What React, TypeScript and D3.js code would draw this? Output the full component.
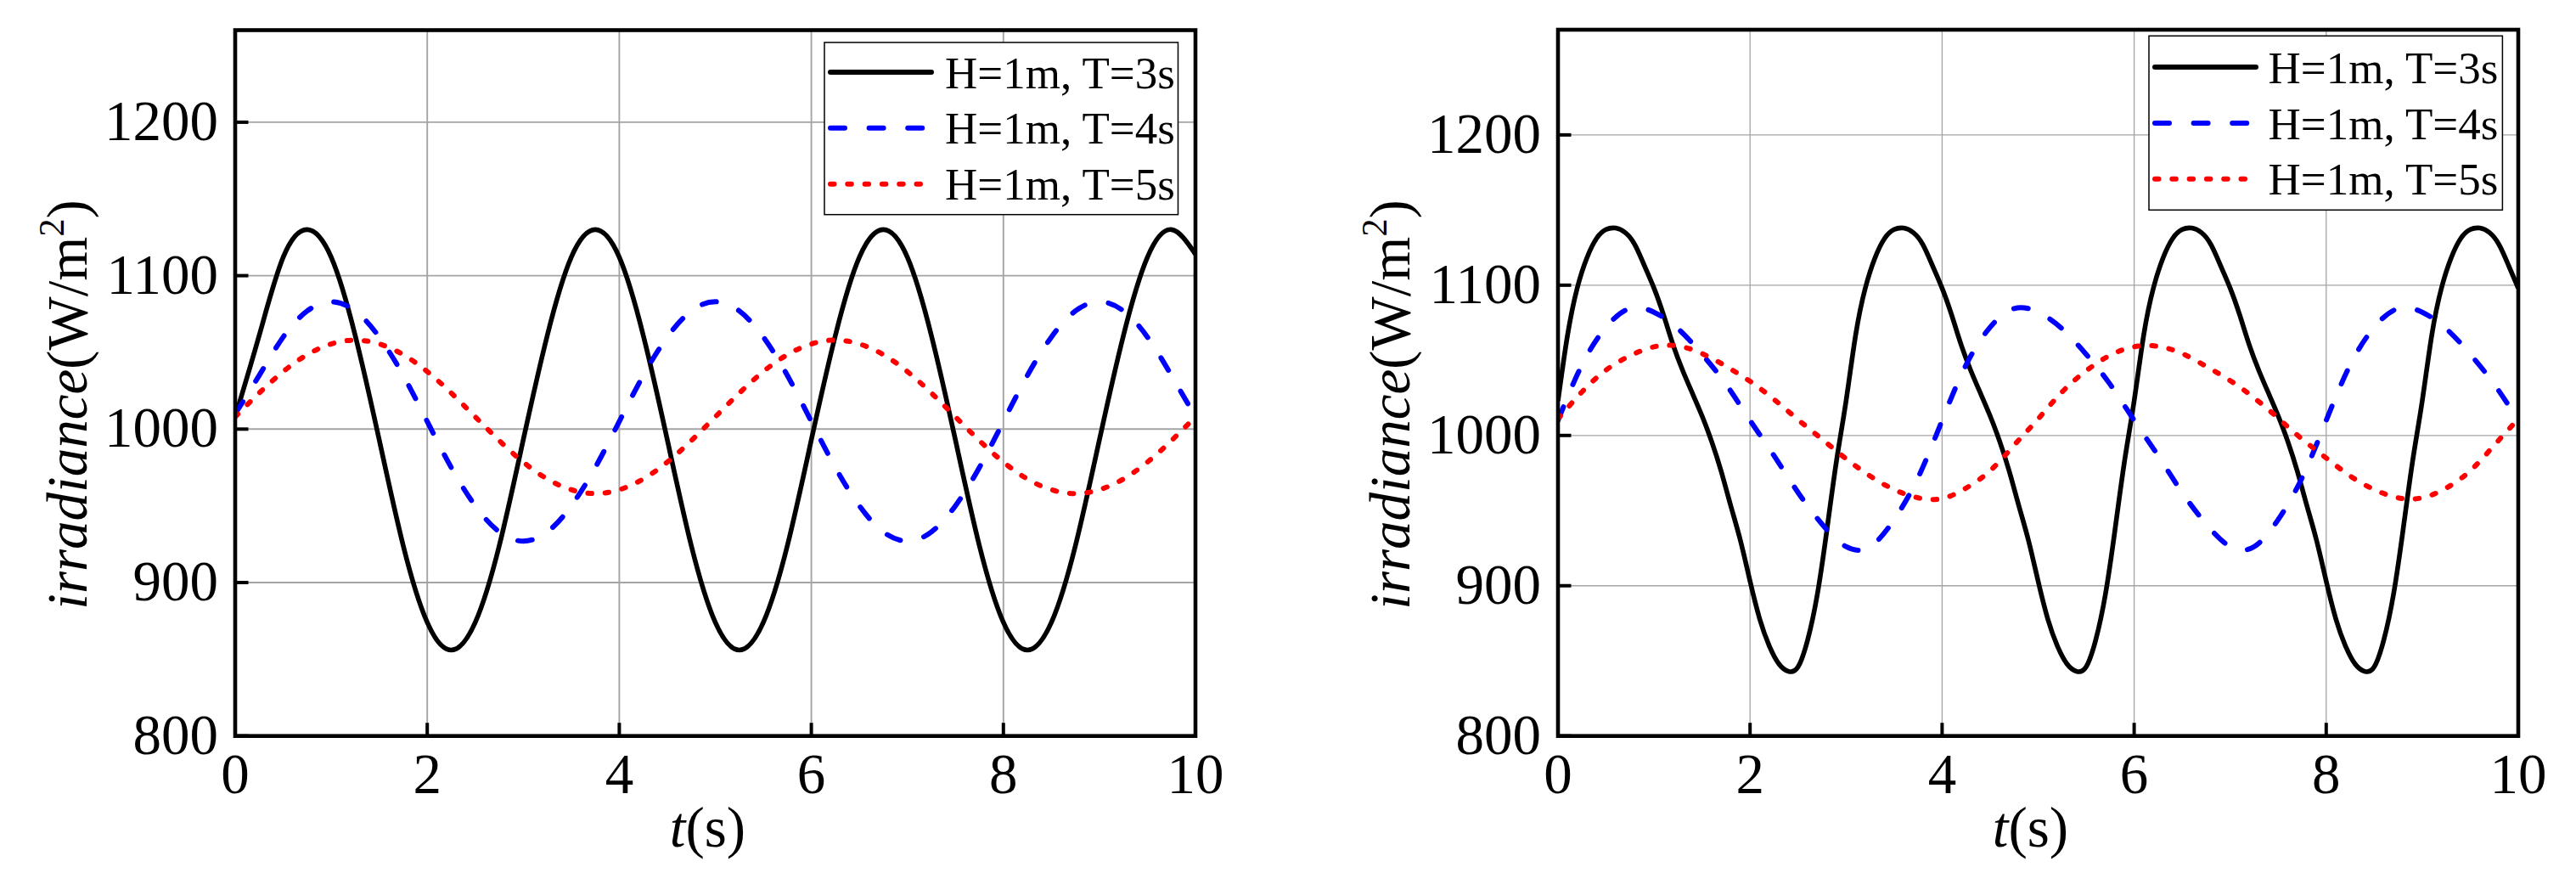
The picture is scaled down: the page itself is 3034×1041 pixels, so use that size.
import * as d3 from 'd3';

// sampling grids for the traces
const tQuarter = d3.range(41).map(i => i * 0.25);
const tTenth = d3.range(101).map(i => i / 10);

// left panel (W/m^2)
const leftT3 = [1008, 1061, 1112, 1130, 1112, 1061, 993, 924, 874, 856, 874, 924, 993, 1061, 1112, 1130, 1112, 1061, 993, 924, 874, 856, 874, 924, 993, 1061, 1112, 1130, 1112, 1061, 993, 924, 874, 856, 874, 924, 993, 1061, 1112, 1130, 1114];
const leftT4 = [1010, 1035, 1060, 1077, 1083, 1077, 1060, 1035, 1005, 975, 950, 933, 927, 933, 950, 975, 1005, 1035, 1060, 1077, 1083, 1077, 1060, 1035, 1005, 975, 950, 933, 927, 933, 950, 975, 1005, 1035, 1060, 1077, 1083, 1077, 1060, 1035, 1008];
const leftT5 = [1008, 1023.5, 1037.5, 1048.5, 1055.5, 1058, 1055.5, 1048.5, 1037.5, 1023.5, 1008, 992.5, 978.5, 967.5, 960.5, 958, 960.5, 967.5, 978.5, 992.5, 1008, 1023.5, 1037.5, 1048.5, 1055.5, 1058, 1055.5, 1048.5, 1037.5, 1023.5, 1008, 992.5, 978.5, 967.5, 960.5, 958, 960.5, 967.5, 978.5, 992.5, 1008];

// right panel
const rightT3 = [
  1023, 1067, 1098, 1118, 1131, 1137, 1138, 1135, 1127, 1113, 1098, 1080, 1060, 1043, 1028, 1013, 996, 976, 953, 930, 903, 878, 860, 848, 843, 846, 864, 894, 937, 983,
  1023, 1067, 1098, 1118, 1131, 1137, 1138, 1135, 1127, 1113, 1098, 1080, 1060, 1043, 1028, 1013, 996, 976, 953, 930, 903, 878, 860, 848, 843, 846, 864, 894, 937, 983,
  1023, 1067, 1098, 1118, 1131, 1137, 1138, 1135, 1127, 1113, 1098, 1080, 1060, 1043, 1028, 1013, 996, 976, 953, 930, 903, 878, 860, 848, 843, 846, 864, 894, 937, 983,
  1023, 1067, 1098, 1118, 1131, 1137, 1138, 1135, 1127, 1113, 1098,
];
const rightT4 = [1010, 1047, 1072, 1084.5, 1082, 1071, 1054, 1034, 1010, 986.5, 962, 941, 926, 926, 944, 972, 1010, 1047, 1072, 1084.5, 1082, 1071, 1054, 1034, 1010, 986.5, 962, 941, 926, 926, 944, 972, 1010, 1047, 1072, 1084.5, 1082, 1071, 1054, 1034, 1010];
const rightT5 = [1011, 1029, 1043.5, 1053, 1059, 1059.5, 1054.5, 1046, 1036, 1024, 1010.5, 997.5, 984.5, 973, 964, 958.5, 958, 965, 976.5, 993.5, 1011, 1029, 1043, 1053.4, 1059, 1059.3, 1054.5, 1046, 1036.5, 1025, 1011.5, 997.5, 985, 973, 964, 958.5, 958.5, 965, 976.5, 993.5, 1011];

const seriesNames = ['H=1m, T=3s', 'H=1m, T=4s', 'H=1m, T=5s'];
const xTicks = [0, 2, 4, 6, 8, 10];
const yTicks = [800, 900, 1000, 1100, 1200];

const lineStyles = [
  { color: '#000000', width: 5.6, dash: undefined as string | undefined },
  { color: '#0000ff', width: 6, dash: '17 28.6' },
  { color: '#ff0000', width: 6, dash: '4.5 15.8' },
];

const FONT = "'Liberation Serif', 'Times New Roman', Times, 'DejaVu Serif', serif";
const txt = { fontFamily: FONT };

interface Series { t: number[]; v: number[] }

interface PanelProps {
  id: string;
  x0: number; x1: number; yTop: number; yBot: number;
  yMax: number;
  series: Series[];
  gridWidth: number;
  legend: { x: number; y: number; w: number; h: number; rows: number[]; textX: number };
}

function Panel({ id, x0, x1, yTop, yBot, yMax, series, gridWidth, legend }: PanelProps) {
  const x = d3.scaleLinear().domain([0, 10]).range([x0, x1]);
  const y = d3.scaleLinear().domain([800, yMax]).range([yBot, yTop]);
  const line = d3.line<[number, number]>()
    .x(d => x(d[0]))
    .y(d => y(d[1]))
    .curve(d3.curveNatural);

  return (
    <g>
      <defs>
        <clipPath id={`clip-${id}`}>
          <rect x={x0} y={yTop} width={x1 - x0} height={yBot - yTop} />
        </clipPath>
      </defs>

      {/* grid */}
      {xTicks.slice(1, -1).map(t => (
        <line key={`gx${t}`} x1={x(t)} x2={x(t)} y1={yTop} y2={yBot} stroke="#a4a4a4" strokeWidth={gridWidth} />
      ))}
      {yTicks.slice(1).map(v => (
        <line key={`gy${v}`} x1={x0} x2={x1} y1={y(v)} y2={y(v)} stroke="#a4a4a4" strokeWidth={gridWidth} />
      ))}

      {/* curves */}
      <g clipPath={`url(#clip-${id})`}>
        {series.map((s, i) => (
          <path
            key={i}
            d={line(s.t.map((t, k) => [t, s.v[k]] as [number, number])) ?? ''}
            fill="none"
            stroke={lineStyles[i].color}
            strokeWidth={lineStyles[i].width}
            strokeDasharray={lineStyles[i].dash}
            strokeLinecap={lineStyles[i].dash ? 'round' : 'butt'}
            strokeLinejoin="round"
          />
        ))}
      </g>

      {/* legend */}
      <rect x={legend.x} y={legend.y} width={legend.w} height={legend.h} fill="#fff" stroke="#000" strokeWidth={1.5} />
      {seriesNames.map((name, i) => {
        const ry = legend.y + legend.rows[i];
        return (
          <g key={name}>
            <line
              x1={legend.x + 7} x2={legend.x + 126} y1={ry} y2={ry}
              stroke={lineStyles[i].color}
              strokeWidth={6}
              strokeDasharray={lineStyles[i].dash}
              strokeLinecap="round"
            />
            <text x={legend.textX} y={ry + 18.5} style={txt} fontSize={53} fill="#000">{name}</text>
          </g>
        );
      })}

      {/* frame and inward ticks */}
      <rect x={x0} y={yTop} width={x1 - x0} height={yBot - yTop} fill="none" stroke="#000" strokeWidth={4.6} />
      {yTicks.map(v => (
        <line key={`ty${v}`} x1={x0} x2={x0 + 15.5} y1={y(v)} y2={y(v)} stroke="#000" strokeWidth={4} />
      ))}
      {xTicks.map(t => (
        <line key={`tx${t}`} x1={x(t)} x2={x(t)} y1={yBot} y2={yBot - 15.5} stroke="#000" strokeWidth={4} />
      ))}

      {/* tick labels */}
      {yTicks.map(v => (
        <text key={`ly${v}`} x={x0 - 20} y={y(v) + 21} textAnchor="end" style={txt} fontSize={67} fill="#000">{v}</text>
      ))}
      {xTicks.map(t => (
        <text key={`lx${t}`} x={x(t)} y={yBot + 67} textAnchor="middle" style={txt} fontSize={67} fill="#000">{t}</text>
      ))}

      {/* axis titles */}
      <text x={(x0 + x1) / 2 - 9} y={997} textAnchor="middle" style={txt} fontSize={67} fill="#000">
        <tspan fontStyle="italic">t</tspan>(s)
      </text>
      <text transform={`translate(${x0 - 175},476.5) rotate(-90)`} textAnchor="middle" style={txt} fontSize={67} fill="#000">
        <tspan fontStyle="italic">irradiance</tspan>
        <tspan>(W/m</tspan>
        <tspan dy={-27} fontSize={42}>2</tspan>
        <tspan dy={27}>)</tspan>
      </text>
    </g>
  );
}

export default function App() {
  return (
    <svg
      width={3034}
      height={1041}
      viewBox="0 0 3034 1041"
      style={{ position: 'absolute', left: 0, top: 0, background: '#fff' }}
    >
      <rect x={0} y={0} width={3034} height={1041} fill="#fff" />
      <Panel
        id="left"
        x0={277} x1={1408} yTop={35.5} yBot={866.7} yMax={1260}
        gridWidth={1.9}
        series={[
          { t: tQuarter, v: leftT3 },
          { t: tQuarter, v: leftT4 },
          { t: tQuarter, v: leftT5 },
        ]}
        legend={{ x: 971, y: 50, w: 416.5, h: 202.7, rows: [35, 100.7, 166.7], textX: 1113 }}
      />
      <Panel
        id="right"
        x0={1835} x1={2966} yTop={35} yBot={866.7} yMax={1270}
        gridWidth={1.3}
        series={[
          { t: tTenth, v: rightT3 },
          { t: tQuarter, v: rightT4 },
          { t: tQuarter, v: rightT5 },
        ]}
        legend={{ x: 2531, y: 42.3, w: 416.4, h: 205, rows: [36.7, 102.7, 168.4], textX: 2671.5 }}
      />
    </svg>
  );
}
